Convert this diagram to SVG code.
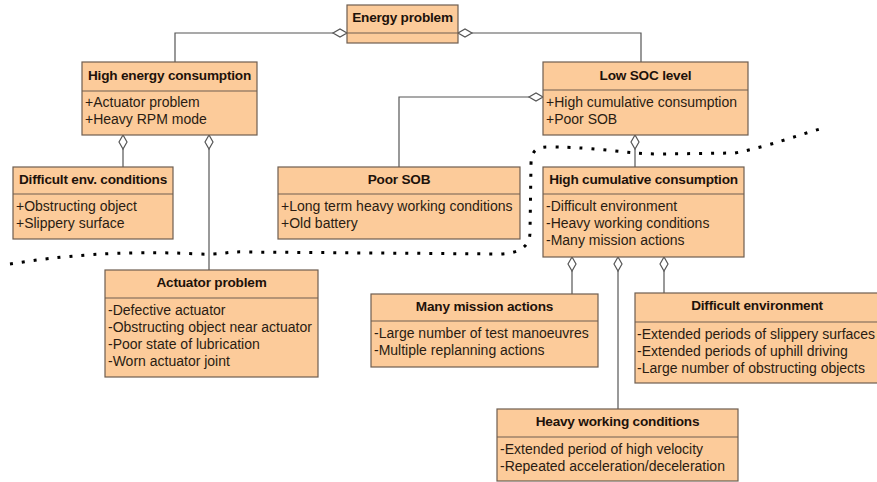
<svg xmlns="http://www.w3.org/2000/svg" width="877" height="482" viewBox="0 0 877 482">
  <defs>
    <style>
      .box { fill: #FCCB9A; stroke: #6E5E50; stroke-width: 1.2; }
      .div { stroke: #6E5E50; stroke-width: 1.2; }
      .title { font-family: "Liberation Sans", Arial, sans-serif; font-size: 13.6px; font-weight: bold; fill: #1E120A; text-anchor: middle; letter-spacing: -0.2px; }
      .attr { font-family: "Liberation Sans", Arial, sans-serif; font-size: 14px; fill: #2A1C12; }
      .conn { fill: none; stroke: #555555; stroke-width: 1.2; }
      .dia { fill: #FFFFFF; stroke: #555555; stroke-width: 1.2; }
      .boundary { fill: none; stroke: #000000; stroke-width: 3; stroke-dasharray: 3 9; }
    </style>
  </defs>

  <rect width="877" height="482" fill="#FFFFFF"/>

  <!-- dotted boundary -->
  <path class="boundary" d="M10,264 C60,256 120,250 200,254 C220,255 230,251 245,252 L500,254 C522,253 530,245 530,232 L531,165 C531,152 535,147 548,147 C600,147 625,154 660,154 L735,153 C770,146 795,136 820,129"/>

  <!-- connectors -->
  <g id="connectors">
    <path class="conn" d="M333,33 H175 V62"/>
    <path class="conn" d="M472,33 H641 V62"/>
    <path class="conn" d="M123,149 V167"/>
    <path class="conn" d="M209,149 V270"/>
    <path class="conn" d="M529,97 H399 V167"/>
    <path class="conn" d="M635,149 V167"/>
    <path class="conn" d="M572,271 V294"/>
    <path class="conn" d="M618,271 V409"/>
    <path class="conn" d="M664,271 V293"/>
    <!-- aggregation diamonds -->
    <path class="dia" d="M347,33 L340,29 L333,33 L340,37 Z"/>
    <path class="dia" d="M458,33 L465,29 L472,33 L465,37 Z"/>
    <path class="dia" d="M123,135 L119,142 L123,149 L127,142 Z"/>
    <path class="dia" d="M209,135 L205,142 L209,149 L213,142 Z"/>
    <path class="dia" d="M543,97 L536,93 L529,97 L536,101 Z"/>
    <path class="dia" d="M635,135 L631,142 L635,149 L639,142 Z"/>
    <path class="dia" d="M572,257 L568,264 L572,271 L576,264 Z"/>
    <path class="dia" d="M618,257 L614,264 L618,271 L622,264 Z"/>
    <path class="dia" d="M664,257 L660,264 L664,271 L668,264 Z"/>
  </g>

  <g id="energy-problem">
    <rect class="box" x="347" y="5" width="111" height="38"/>
    <line class="div" x1="347" y1="33" x2="458" y2="33"/>
    <text class="title" x="402.5" y="22">Energy problem</text>
  </g>

  <g id="high-energy-consumption">
    <rect class="box" x="82" y="62" width="175" height="73"/>
    <line class="div" x1="82" y1="91" x2="257" y2="91"/>
    <text class="title" x="169.5" y="80">High energy consumption</text>
    <text class="attr" x="85" y="107">+Actuator problem</text>
    <text class="attr" x="85" y="124">+Heavy RPM mode</text>
  </g>

  <g id="low-soc-level">
    <rect class="box" x="543" y="62" width="205" height="73"/>
    <line class="div" x1="543" y1="90" x2="748" y2="90"/>
    <text class="title" x="645.5" y="80">Low SOC level</text>
    <text class="attr" x="546" y="107">+High cumulative consumption</text>
    <text class="attr" x="546" y="124">+Poor SOB</text>
  </g>

  <g id="difficult-env-conditions">
    <rect class="box" x="13" y="167" width="160" height="72"/>
    <line class="div" x1="13" y1="194" x2="173" y2="194"/>
    <text class="title" x="93" y="184">Difficult env. conditions</text>
    <text class="attr" x="16" y="211">+Obstructing object</text>
    <text class="attr" x="16" y="228">+Slippery surface</text>
  </g>

  <g id="poor-sob">
    <rect class="box" x="278" y="167" width="242" height="72"/>
    <line class="div" x1="278" y1="194" x2="520" y2="194"/>
    <text class="title" x="399" y="184">Poor SOB</text>
    <text class="attr" x="281" y="211">+Long term heavy working conditions</text>
    <text class="attr" x="281" y="228">+Old battery</text>
  </g>

  <g id="high-cumulative-consumption">
    <rect class="box" x="543" y="167" width="201" height="90"/>
    <line class="div" x1="543" y1="194" x2="744" y2="194"/>
    <text class="title" x="643.5" y="184">High cumulative consumption</text>
    <text class="attr" x="546" y="211">-Difficult environment</text>
    <text class="attr" x="546" y="228">-Heavy working conditions</text>
    <text class="attr" x="546" y="245">-Many mission actions</text>
  </g>

  <g id="actuator-problem">
    <rect class="box" x="105" y="270" width="213" height="107"/>
    <line class="div" x1="105" y1="298" x2="318" y2="298"/>
    <text class="title" x="211.5" y="287">Actuator problem</text>
    <text class="attr" x="108" y="315">-Defective actuator</text>
    <text class="attr" x="108" y="332">-Obstructing object near actuator</text>
    <text class="attr" x="108" y="349">-Poor state of lubrication</text>
    <text class="attr" x="108" y="366">-Worn actuator joint</text>
  </g>

  <g id="many-mission-actions">
    <rect class="box" x="371" y="294" width="227" height="73"/>
    <line class="div" x1="371" y1="321" x2="598" y2="321"/>
    <text class="title" x="484.5" y="311">Many mission actions</text>
    <text class="attr" x="374" y="338">-Large number of test manoeuvres</text>
    <text class="attr" x="374" y="355">-Multiple replanning actions</text>
  </g>

  <g id="difficult-environment">
    <rect class="box" x="635" y="293" width="250" height="90"/>
    <line class="div" x1="635" y1="322" x2="885" y2="322"/>
    <text class="title" x="757" y="310">Difficult environment</text>
    <text class="attr" x="637" y="339">-Extended periods of slippery surfaces</text>
    <text class="attr" x="637" y="356">-Extended periods of uphill driving</text>
    <text class="attr" x="637" y="373">-Large number of obstructing objects</text>
  </g>

  <g id="heavy-working-conditions">
    <rect class="box" x="497" y="409" width="241" height="72"/>
    <line class="div" x1="497" y1="437" x2="738" y2="437"/>
    <text class="title" x="617.5" y="426">Heavy working conditions</text>
    <text class="attr" x="500" y="454">-Extended period of high velocity</text>
    <text class="attr" x="500" y="471">-Repeated acceleration/deceleration</text>
  </g>
</svg>
